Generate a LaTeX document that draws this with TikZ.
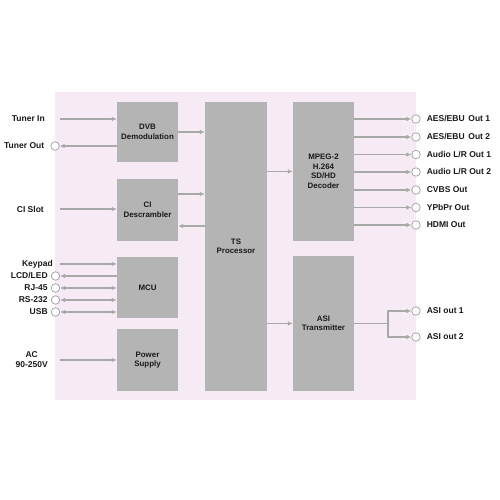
\documentclass[tikz,border=0pt]{standalone}
\usepackage{fontspec}
\setmainfont{Liberation Sans}
\usepackage{tikz}
\usetikzlibrary{arrows,arrows.meta,positioning,calc}
\definecolor{bgpink}{RGB}{246,235,244}
\definecolor{blkgray}{RGB}{180,180,180}
\definecolor{arrgray}{RGB}{168,168,168}
\definecolor{txtgray}{RGB}{25,25,25}
\tikzset{
  blk/.style={fill=blkgray, inner sep=0pt, align=center, text=txtgray,
    font=\bfseries\fontsize{7.9}{9.5}\selectfont},
  port/.style={circle, draw=arrgray, fill=white, line width=0.8pt, inner sep=0pt, minimum size=8.5pt},
  lbl/.style={inner sep=1pt, text=txtgray, font=\bfseries\fontsize{8.5}{10}\selectfont},
  sig/.style={-{Latex[length=5pt,width=4.5pt]}, draw=arrgray, line width=1.3pt},
  bsig/.style={{Latex[length=5pt,width=4.5pt]}-{Latex[length=5pt,width=4.5pt]}, draw=arrgray, line width=1.3pt},
  wire/.style={-, draw=arrgray, line width=1.3pt}
}
\begin{document}
\begin{tikzpicture}[x=1pt,y=-1pt]
\useasboundingbox (0,0) rectangle (500,500);
\fill[bgpink] (55,92) rectangle (416,400);

\node[blk, minimum width=61pt, minimum height=60pt] (dvb) at (147.5,132) {DVB\\Demodulation};
\node[blk, minimum width=61pt, minimum height=62pt] (ci) at (147.5,210) {CI\\Descrambler};
\node[blk, minimum width=61pt, minimum height=61pt] (mcu) at (147.5,287.5) {MCU};
\node[blk, minimum width=61pt, minimum height=62pt] (pwr) at (147.5,360) {Power\\Supply};
\node[blk, minimum width=62pt, minimum height=289pt] (ts) at (236,246.5) {TS\\Processor};
\node[blk, minimum width=61pt, minimum height=139pt] (mpeg) at (323.5,171.5) {MPEG-2\\H.264\\SD/HD\\Decoder};
\node[blk, minimum width=61pt, minimum height=135pt] (asi) at (323.5,323.5) {ASI\\Transmitter};

\coordinate (tin) at (60,119);
\node[lbl, anchor=east] (tinl) at (46,119) {Tuner In};
\draw[sig] (tin) -- (tin -| dvb.west);
\node[port] (tout) at (55,146) {};
\node[lbl, left=5pt of tout] (toutl) {Tuner Out};
\draw[sig] (tout -| dvb.west) -- (tout.east);
\coordinate (cis) at (60,209);
\node[lbl, anchor=east] (cisl) at (45,209) {CI Slot};
\draw[sig] (cis) -- (cis -| ci.west);

\coordinate (kp) at (60,264);
\node[lbl, anchor=east] (kpl) at (54,264) {Keypad};
\draw[sig] (kp) -- (kp -| mcu.west);
\node[port] (lcd) at (55.5,276) {};
\node[lbl, left=2pt of lcd] (lcdl) {LCD/LED};
\draw[sig] (lcd -| mcu.west) -- (lcd.east);
\node[port] (rj) at (55.5,288) {};
\node[lbl, left=2pt of rj] (rjl) {RJ-45};
\draw[bsig] (rj.east) -- (rj -| mcu.west);
\node[port] (rs) at (55.5,300) {};
\node[lbl, left=2pt of rs] (rsl) {RS-232};
\draw[bsig] (rs.east) -- (rs -| mcu.west);
\node[port] (usb) at (55.5,312) {};
\node[lbl, left=2pt of usb] (usbl) {USB};
\draw[bsig] (usb.east) -- (usb -| mcu.west);

\coordinate (ac) at (60,360);
\node[lbl, anchor=east, align=center] (acl) at (49,360) {AC\\90-250V};
\draw[sig] (ac) -- (ac -| pwr.west);

% links into and out of the TS processor
\coordinate (cia) at ($(ci.east)+(0,-16)$);
\coordinate (cib) at ($(ci.east)+(0,16)$);
\draw[sig] (dvb.east) -- (dvb.east -| ts.west);
\draw[sig] (cia) -- (cia -| ts.west);
\draw[sig] (cib -| ts.west) -- (cib);
\draw[sig] (mpeg.west -| ts.east) -- (mpeg.west);
\draw[sig] (asi.west -| ts.east) -- (asi.west);

\node[port] (aes1) at (416,119) {};
\node[lbl, right=5pt of aes1] {AES/EBU\, Out 1};
\node[port] (aes2) at (416,137) {};
\node[lbl, right=5pt of aes2] {AES/EBU\, Out 2};
\node[port] (alr1) at (416,154.5) {};
\node[lbl, right=5pt of alr1] {Audio L/R Out 1};
\node[port] (alr2) at (416,172) {};
\node[lbl, right=5pt of alr2] {Audio L/R Out 2};
\node[port] (cvbs) at (416,190) {};
\node[lbl, right=5pt of cvbs] {CVBS Out};
\node[port] (ypbpr) at (416,207.5) {};
\node[lbl, right=5pt of ypbpr] {YPbPr Out};
\node[port] (hdmi) at (416,225) {};
\node[lbl, right=5pt of hdmi] {HDMI Out};
\draw[sig] (aes1 -| mpeg.east) -- (aes1.west);
\draw[sig] (aes2 -| mpeg.east) -- (aes2.west);
\draw[sig] (alr1 -| mpeg.east) -- (alr1.west);
\draw[sig] (alr2 -| mpeg.east) -- (alr2.west);
\draw[sig] (cvbs -| mpeg.east) -- (cvbs.west);
\draw[sig] (ypbpr -| mpeg.east) -- (ypbpr.west);
\draw[sig] (hdmi -| mpeg.east) -- (hdmi.west);

\node[port] (asi1) at (416,311) {};
\node[lbl, right=5pt of asi1] {ASI out 1};
\node[port] (asi2) at (416,337) {};
\node[lbl, right=5pt of asi2] {ASI out 2};
\coordinate (split) at (388,323.5);
\draw[wire] (asi.east) -- (split);
\draw[sig] (split) |- (asi1.west);
\draw[sig] (split) |- (asi2.west);
\end{tikzpicture}
\end{document}
